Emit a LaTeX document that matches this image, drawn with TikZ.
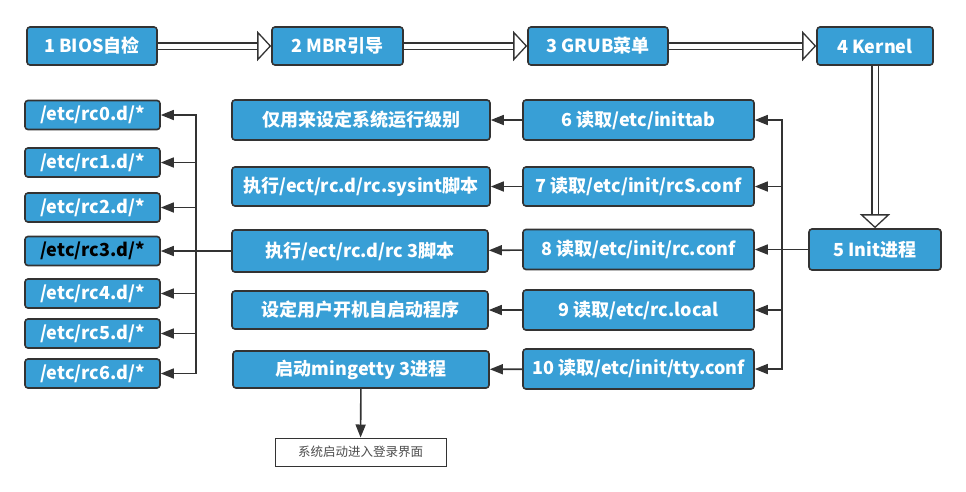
\documentclass[tikz,border=0pt]{standalone}
\usepackage{fontspec}
\setmainfont{Noto Sans CJK SC}
\usetikzlibrary{arrows.meta}
\definecolor{boxblue}{RGB}{56,159,214}
\definecolor{boxline}{RGB}{51,51,51}
\tikzset{
  stepbox/.style={draw=boxline, fill=boxblue, line width=1.6pt, rounded corners=3pt,
    text=white, font=\bfseries\fontsize{18}{20}\selectfont, inner sep=0pt},
  endbox/.style={draw=boxline, fill=white, line width=1pt, text=black!70,
    font=\fontsize{12.5}{14}\selectfont, inner sep=0pt},
  hollow/.style={draw=boxline, line width=1.3pt, double=white, double distance=5pt,
    -{Triangle[open, fill=white, length=14pt, width=30pt]}},
  link/.style={draw=boxline, line width=1.6pt, ->}
}
\begin{document}
\begin{tikzpicture}[x=1pt, y=-1pt, >={Triangle[length=13pt, width=10pt]}]
\useasboundingbox (0,0) rectangle (966,491);
% top row
\node[stepbox, minimum width=130, minimum height=38] (bios) at (92,46) {1 BIOS自检};
\node[stepbox, minimum width=131, minimum height=38] (mbr) at (337.5,46) {2 MBR引导};
\node[stepbox, minimum width=140, minimum height=38] (grub) at (598,46) {3 GRUB菜单};
\node[stepbox, minimum width=116, minimum height=38] (kernel) at (875,46) {4 Kernel};
\node[stepbox, minimum width=132, minimum height=41] (init) at (875,249.5) {5 Init进程};

% read steps
\node[stepbox, minimum width=231, minimum height=40] (inittab) at (638.5,120) {6 读取/etc/inittab};
\node[stepbox, minimum width=231, minimum height=39] (rcs) at (638.5,186.5) {7 读取/etc/init/rcS.conf};
\node[stepbox, minimum width=231, minimum height=40] (rcconf) at (638.5,249.5) {8 读取/etc/init/rc.conf};
\node[stepbox, minimum width=231, minimum height=40] (rclocal) at (638.5,310) {9 读取/etc/rc.local};
\node[stepbox, minimum width=231, minimum height=40] (tty) at (638.5,369) {10 读取/etc/init/tty.conf};

% actions
\node[stepbox, minimum width=258, minimum height=40] (level) at (361,120) {仅用来设定系统运行级别};
\node[stepbox, minimum width=258, minimum height=39] (sysint) at (361,186.5) {执行/ect/rc.d/rc.sysint脚本};
\node[stepbox, minimum width=256, minimum height=42] (rcthree) at (360,251) {执行/ect/rc.d/rc 3脚本};
\node[stepbox, minimum width=256, minimum height=38] (autostart) at (360,310) {设定用户开机自启动程序};
\node[stepbox, minimum width=256, minimum height=37] (mingetty) at (361,369.5) {启动mingetty 3进程};
\node[endbox, minimum width=171, minimum height=28] (login) at (360.5,452) {系统启动进入登录界面};

% run levels
\node[stepbox, minimum width=135, minimum height=29] (rc0) at (92.5,115) {/etc/rc0.d/*};
\node[stepbox, minimum width=135, minimum height=29] (rc1) at (92.5,162.5) {/etc/rc1.d/*};
\node[stepbox, minimum width=135, minimum height=29] (rc2) at (92.5,207.5) {/etc/rc2.d/*};
\node[stepbox, minimum width=135, minimum height=29, text=black] (rc3) at (92.5,251) {/etc/rc3.d/*};
\node[stepbox, minimum width=135, minimum height=29] (rc4) at (92.5,293.5) {/etc/rc4.d/*};
\node[stepbox, minimum width=135, minimum height=29] (rc5) at (92.5,333.5) {/etc/rc5.d/*};
\node[stepbox, minimum width=135, minimum height=29] (rc6) at (92.5,373.5) {/etc/rc6.d/*};

\coordinate (busR) at (782,249.5);
\coordinate (busL) at (196,251);

\draw[hollow] (bios) -- (mbr);
\draw[hollow] (mbr) -- (grub);
\draw[hollow] (grub) -- (kernel);
\draw[hollow] (kernel) -- (init);

\draw[link, -] (init.west) -- (busR);
\draw[link] (busR) |- (inittab.east);
\draw[link] (busR) |- (rcs.east);
\draw[link] (busR) -- (rcconf.east);
\draw[link] (busR) |- (rclocal.east);
\draw[link] (busR) |- (tty.east);

\draw[link] (inittab) -- (level);
\draw[link] (rcs) -- (sysint);
\draw[link] (rcconf) -- (rcthree);
\draw[link] (rclocal) -- (autostart);
\draw[link] (tty) -- (mingetty);
\draw[link] (mingetty) -- (login);

\draw[link, -] (rcthree.west) -- (busL);
\draw[link] (busL) |- (rc0.east);
\draw[link] (busL) |- (rc1.east);
\draw[link] (busL) |- (rc2.east);
\draw[link] (busL) -- (rc3.east);
\draw[link] (busL) |- (rc4.east);
\draw[link] (busL) |- (rc5.east);
\draw[link] (busL) |- (rc6.east);
\end{tikzpicture}
\end{document}
